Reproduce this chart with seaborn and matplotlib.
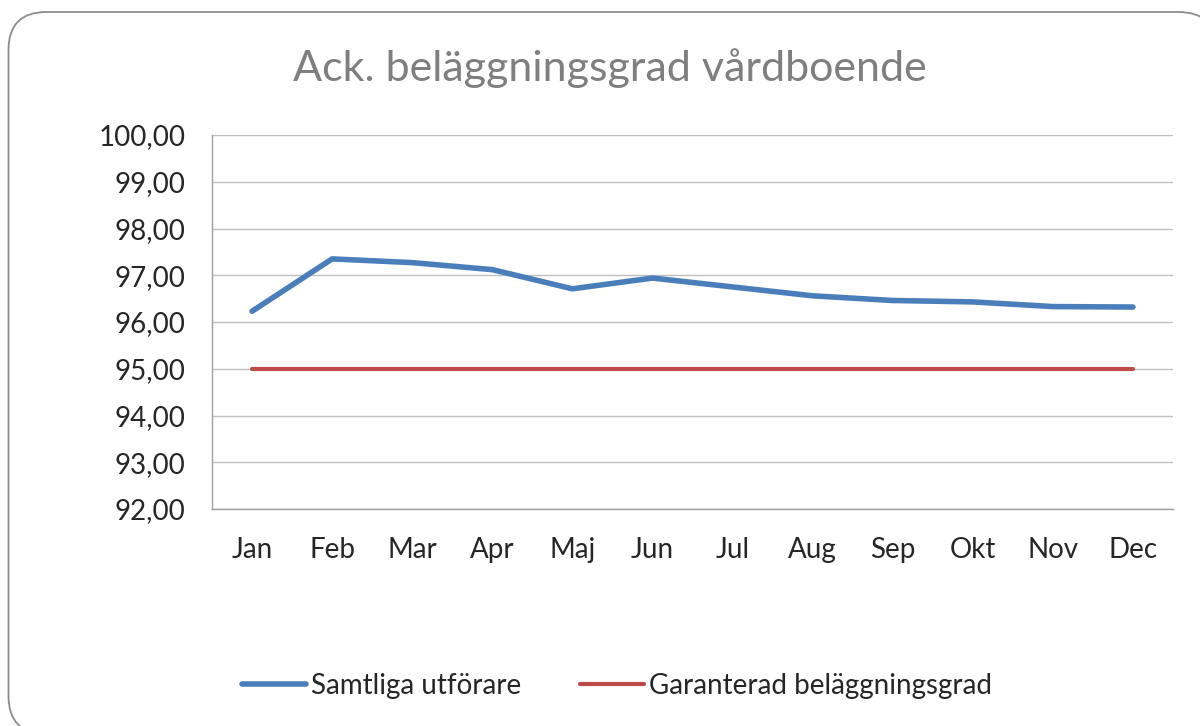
import matplotlib
matplotlib.use("Agg")
import matplotlib.pyplot as plt
from matplotlib.patches import FancyBboxPatch
from matplotlib.ticker import FuncFormatter
from matplotlib.lines import Line2D
import seaborn as sns
import pandas as pd

months = ["Jan", "Feb", "Mar", "Apr", "Maj", "Jun", "Jul", "Aug", "Sep", "Okt", "Nov", "Dec"]
samtliga = [96.23, 97.35, 97.27, 97.12, 96.71, 96.94, 96.75, 96.56, 96.46, 96.43, 96.33, 96.32]
garanterad = [95.0] * 12
series_names = ["Samtliga utförare", "Garanterad beläggningsgrad"]
title = "Ack. beläggningsgrad vårdboende"

sns.set_theme(style="white")
plt.rcParams['font.family'] = ['Lato', 'DejaVu Sans']

df = pd.DataFrame({
    "month": months * 2,
    "x": list(range(12)) * 2,
    "value": samtliga + garanterad,
    "series": [series_names[0]] * 12 + [series_names[1]] * 12,
})

fig = plt.figure(figsize=(12, 7.26), dpi=100)
ax = fig.add_axes([212 / 1200, 1 - 509 / 726, (1173 - 212) / 1200, (509 - 135) / 726])

# outer rounded frame (in inches: left 0.085, bottom -0.08, top 7.14, right ~12.16)
border = FancyBboxPatch((0.085, -0.08), 12.08, 7.22,
                        boxstyle="round,pad=0,rounding_size=0.38",
                        transform=fig.dpi_scale_trans, facecolor="white",
                        edgecolor="#8c8c8c", linewidth=1.3, zorder=-10)
fig.patches.append(border)

sns.lineplot(data=df, x="x", y="value", hue="series",
             palette=["#4a7ebb", "#be4b48"], ax=ax, linewidth=4,
             legend=False, sort=False)
for line in ax.lines:
    line.set_solid_capstyle("round")
ax.lines[1].set_linewidth(3)

ax.set_xlim(-0.5, 11.5)
ax.set_ylim(92, 100)
ax.set_yticks([92, 93, 94, 95, 96, 97, 98, 99, 100])
ax.yaxis.set_major_formatter(FuncFormatter(lambda v, p: f"{v:.2f}".replace(".", ",")))
ax.set_xticks(range(12))
ax.set_xticklabels(months)
ax.set_xlabel("")
ax.set_ylabel("")
ax.grid(axis="y", color="#bfbfbf", linewidth=1)
ax.tick_params(axis="both", length=0, labelsize=20, colors="#262626")
ax.tick_params(axis="x", pad=20)
ax.tick_params(axis="y", pad=19)
for s in ["top", "right"]:
    ax.spines[s].set_visible(False)
for s in ["left", "bottom"]:
    ax.spines[s].set_color("#9f9f9f")
    ax.spines[s].set_linewidth(1)

fig.text(610 / 1200, 1 - 68 / 726, title, ha="center", va="center",
         fontsize=31, color="#7f7f7f")

handles = [Line2D([0], [0], color="#4a7ebb", lw=4, solid_capstyle="round"),
           Line2D([0], [0], color="#be4b48", lw=3, solid_capstyle="round")]
fig.legend(handles, series_names, loc="center", bbox_to_anchor=(617 / 1200, 1 - 686 / 726),
           ncol=2, frameon=False, fontsize=20, handlelength=2.3, handletextpad=0.2,
           columnspacing=2.1, labelcolor="#262626")

fig.savefig("out.png", dpi=100)
